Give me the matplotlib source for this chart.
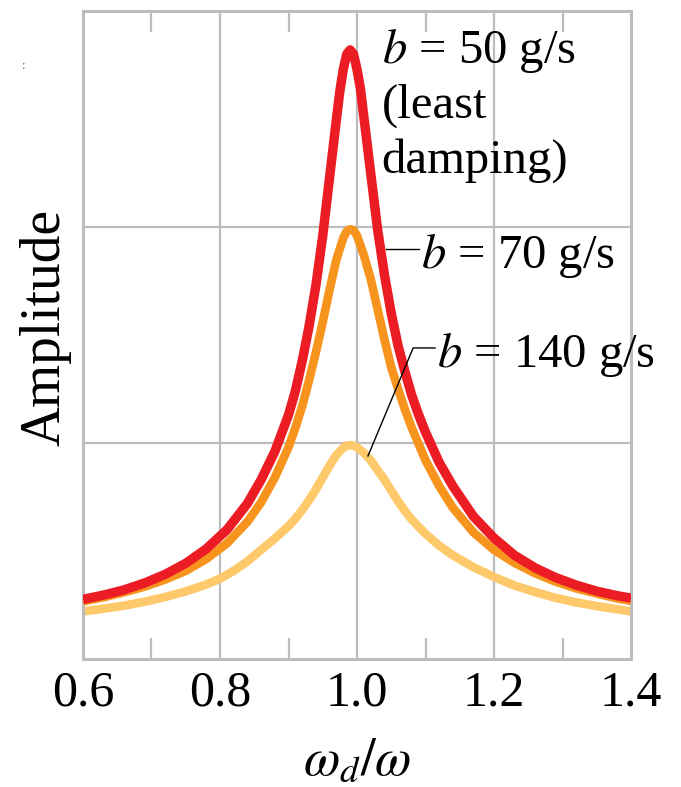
import matplotlib
matplotlib.use("Agg")
import matplotlib.pyplot as plt

plt.rcParams['font.family'] = ['Liberation Serif', 'DejaVu Serif']
plt.rcParams['mathtext.fontset'] = 'stix'

# values (amplitude in grid units)
x_red = [0.60, 0.63, 0.66, 0.69, 0.72, 0.75, 0.78, 0.81, 0.84, 0.86, 0.88,
         0.90, 0.91, 0.92, 0.93, 0.94, 0.95, 0.96, 0.97, 0.975, 0.98, 0.985,
         0.99, 0.995, 1.00, 1.005, 1.01, 1.02, 1.03, 1.04, 1.05, 1.06, 1.07,
         1.08, 1.09, 1.10, 1.12, 1.14, 1.17, 1.20, 1.23, 1.26, 1.29, 1.32,
         1.35, 1.38, 1.40]
amp_red = [0.276, 0.296, 0.320, 0.352, 0.392, 0.443, 0.51, 0.598, 0.72, 0.83,
           0.96, 1.13, 1.24, 1.38, 1.54, 1.73, 1.96, 2.23, 2.50, 2.63, 2.73,
           2.80, 2.82, 2.80, 2.73, 2.64, 2.51, 2.25, 1.99, 1.78, 1.60, 1.45,
           1.33, 1.22, 1.13, 1.05, 0.91, 0.80, 0.66, 0.56, 0.48, 0.422, 0.377,
           0.342, 0.314, 0.293, 0.282]

x_orange = [0.60, 0.63, 0.66, 0.69, 0.72, 0.75, 0.78, 0.81, 0.84, 0.86, 0.88,
            0.90, 0.91, 0.92, 0.93, 0.94, 0.95, 0.96, 0.97, 0.98, 0.985, 0.99,
            0.995, 1.00, 1.01, 1.02, 1.03, 1.04, 1.05, 1.06, 1.07, 1.08, 1.10,
            1.12, 1.14, 1.17, 1.20, 1.23, 1.26, 1.29, 1.32, 1.35, 1.38, 1.40]
amp_orange = [0.267, 0.286, 0.309, 0.335, 0.368, 0.408, 0.463, 0.535, 0.635,
              0.725, 0.84, 0.98, 1.07, 1.17, 1.29, 1.42, 1.56, 1.71, 1.85, 1.95,
              1.98, 1.99, 1.985, 1.96, 1.87, 1.76, 1.62, 1.48, 1.35, 1.25,
              1.155, 1.07, 0.92, 0.80, 0.70, 0.586, 0.505, 0.445, 0.397,
              0.358, 0.327, 0.303, 0.280, 0.269]

x_yellow = [0.60, 0.63, 0.66, 0.69, 0.72, 0.75, 0.78, 0.80, 0.82, 0.84, 0.86,
            0.88, 0.90, 0.91, 0.92, 0.93, 0.94, 0.95, 0.96, 0.97, 0.98, 0.985,
            0.99, 0.995, 1.00, 1.01, 1.02, 1.03, 1.04, 1.05, 1.06, 1.07, 1.08,
            1.10, 1.12, 1.14, 1.17, 1.20, 1.23, 1.26, 1.29, 1.32, 1.35, 1.38,
            1.40]
amp_yellow = [0.22, 0.233, 0.247, 0.265, 0.287, 0.313, 0.345, 0.372, 0.408,
              0.452, 0.505, 0.558, 0.615, 0.65, 0.69, 0.735, 0.785, 0.84, 0.895,
              0.945, 0.978, 0.988, 0.99, 0.988, 0.98, 0.955, 0.92, 0.875, 0.83,
              0.78, 0.73, 0.685, 0.645, 0.58, 0.525, 0.48, 0.425, 0.38, 0.34,
              0.31, 0.283, 0.262, 0.245, 0.23, 0.22]

xticks = [0.6, 0.8, 1.0, 1.2, 1.4]
xtick_labels = ['0.6', '0.8', '1.0', '1.2', '1.4']
minor_ticks = [0.7, 0.9, 1.1, 1.3]

RED = '#ec1c24'
ORANGE = '#f7941d'
YELLOW = '#fdc96b'
GRAY = '#bdbdbf'

fig = plt.figure(figsize=(6.81, 7.87), dpi=100)
ax = fig.add_axes([83 / 681, 128 / 787, 548 / 681, 648 / 787])

ax.set_xlim(0.6, 1.4)
ax.set_ylim(0, 3)

# grid
for gx in [0.8, 1.0, 1.2]:
    ax.axvline(gx, color=GRAY, lw=1.6, zorder=0)
for gy in [1, 2]:
    ax.axhline(gy, color=GRAY, lw=1.6, zorder=0)

ax.plot(x_yellow, amp_yellow, color=YELLOW, lw=6.2, solid_capstyle='butt',
        solid_joinstyle='round', zorder=2)
ax.plot(x_orange, amp_orange, color=ORANGE, lw=6.2, solid_capstyle='butt',
        solid_joinstyle='round', zorder=3)
ax.plot(x_red, amp_red, color=RED, lw=6.8, solid_capstyle='butt',
        solid_joinstyle='round', zorder=4)

for s in ax.spines.values():
    s.set_color(GRAY)
    s.set_linewidth(2.2)

ax.set_yticks([])
ax.set_xticks(xticks)
ax.set_xticklabels(xtick_labels, fontsize=36)
ax.set_xticks(minor_ticks, minor=True)
ax.tick_params(axis='x', which='major', length=0, pad=8)
ax.tick_params(axis='x', which='minor', direction='in', length=15,
               width=1.6, color=GRAY, top=True, bottom=True)

# annotations
tsize = 35
ax.text(1.036, 2.76, r'$b$ = 50 g/s', fontsize=tsize, va='baseline')
ax.text(1.036, 2.505, '(least', fontsize=tsize, va='baseline')
ax.text(1.036, 2.25, 'damping)', fontsize=tsize, va='baseline')

ax.plot([1.042, 1.090], [1.90, 1.90], color='black', lw=1.0, zorder=5)
ax.text(1.094, 1.81, r'$b$ = 70 g/s', fontsize=tsize, va='baseline')

ax.plot([1.016, 1.082, 1.114], [0.94, 1.44, 1.44], color='black', lw=1.0,
        zorder=5)
ax.text(1.117, 1.35, r'$b$ = 140 g/s', fontsize=tsize, va='baseline')

fig.text(45 / 681, 1 - 327 / 787, 'Amplitude', rotation=90, fontsize=40,
         ha='center', va='center')
fig.text(357 / 681, 1 - 762 / 787, r'$\omega_d/\omega$', fontsize=38,
         ha='center', va='center')
fig.text(24 / 681, 1 - 66 / 787, ':', fontsize=9, color='#555555',
         ha='center', va='center')

fig.savefig('out.png', dpi=100)
